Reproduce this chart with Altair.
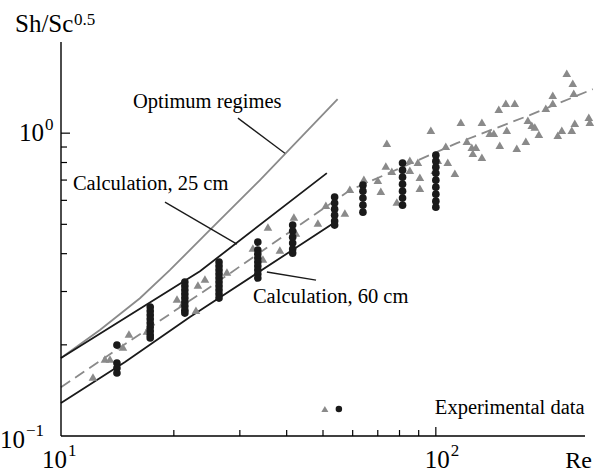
import altair as alt
import pandas as pd

# ---------------- data ----------------
# Experimental data, grey triangles (Re, Sh/Sc^0.5)
tri_re = [12.17, 13.10, 13.51, 14.63, 15.18, 16.96, 20.39, 21.15, 22.91, 23.19,
          24.21, 27.71, 32.51, 34.57, 35.65, 38.37, 41.81, 42.33, 48.45, 50.89,
          57.19, 58.97, 64.27, 70.02, 71.32, 74.00, 73.55, 76.31, 78.70, 85.24,
          89.54, 85.24, 90.65, 90.65, 96.98, 99.39, 101.2, 106.3, 107.6, 112.4,
          116.6, 121.0, 124.7, 127.9, 125.5, 132.7, 132.7, 139.3, 142.8, 147.2,
          153.7, 162.4, 148.1, 154.6, 164.4, 173.8, 176.0, 180.3, 183.7, 188.3,
          196.5, 205.1, 205.1, 211.5, 216.8, 230.5, 234.8, 233.3, 223.5, 231.9,
          255.9, 257.5]
tri_sh = [0.1565, 0.1795, 0.1795, 0.1966, 0.2171, 0.2221, 0.2832, 0.2748, 0.2604, 0.3150,
          0.3297, 0.3477, 0.4174, 0.3839, 0.4896, 0.4111, 0.5282, 0.4677, 0.5047, 0.5785,
          0.5445, 0.6533, 0.7050, 0.6996, 0.6435, 0.9268, 0.7784, 0.7490, 0.5920, 0.8144,
          0.8023, 0.7548, 0.7157, 0.6583, 1.023, 0.7548, 0.8144, 0.9060, 0.8023, 0.7379,
          1.087, 0.9410, 0.8991, 0.8991, 0.8590, 0.8333, 1.087, 1.000, 1.000, 1.200,
          1.256, 1.256, 0.9128, 1.023, 0.8922, 0.9410, 1.104, 1.063, 1.047, 0.9924,
          1.209, 1.335, 1.256, 0.985, 1.023, 1.023, 1.079, 1.355, 1.578, 1.462,
          1.129, 1.087]

# Experimental data, black circles: one column per Re value
dot_re = [14.1, 17.3, 21.4, 26.4, 33.5, 41.5, 53.7, 63.9, 81.5, 100.0]
dot_sh = [
    [0.1996, 0.1741, 0.1677, 0.1614],
    [0.2666, 0.2585, 0.2507, 0.2432, 0.2360, 0.2289, 0.2221, 0.2154, 0.2106],
    [0.3223, 0.3126, 0.3032, 0.2941, 0.2853, 0.2768, 0.2685, 0.2604, 0.2546],
    [0.3752, 0.3640, 0.3531, 0.3425, 0.3323, 0.3223, 0.3126, 0.3032, 0.2941, 0.2853],
    [0.4368, 0.4111, 0.3988, 0.3869, 0.3752, 0.3640, 0.3531, 0.3425, 0.3323],
    [0.4971, 0.4749, 0.4536, 0.4335, 0.4143, 0.4018],
    [0.6149, 0.5875, 0.5612, 0.5362, 0.5124, 0.4971],
    [0.6735, 0.6435, 0.6103, 0.5785, 0.5486],
    [0.7963, 0.7548, 0.7157, 0.6786, 0.6435, 0.6103, 0.5785],
    [0.8461, 0.8083, 0.7722, 0.7379, 0.6996, 0.6634, 0.6290, 0.5964, 0.5698],
]

# Curves
opt_re = [10, 12.70, 16.24, 19.51, 24.97, 33.94, 54.7]
opt_sh = [0.181, 0.224, 0.285, 0.353, 0.479, 0.700, 1.295]
calc25_re = [10, 23.48, 51.2]
calc25_sh = [0.181, 0.350, 0.738]
calc60_re = [10, 14.82, 22.08, 53.8]
calc60_sh = [0.1285, 0.1754, 0.247, 0.508]
fit_re = [10, 24.96, 58.97, 113.8, 178.1, 262.2]
fit_sh = [0.145, 0.310, 0.648, 0.927, 1.147, 1.397]

# Annotations and leader lines
label_text = ["Optimum regimes", "Calculation, 25 cm", "Calculation, 60 cm", "Experimental data"]
label_re = [15.56, 10.76, 32.51, 99.4]
label_sh = [1.209, 0.648, 0.2748, 0.1182]
leader_re = [29.65, 18.94, 35.42]
leader_sh = [1.121, 0.592, 0.348]
leader_re2 = [39.56, 29.47, 47.9]
leader_sh2 = [0.859, 0.430, 0.327]
legend_tri = (50.58, 0.1228)
legend_dot = (55.12, 0.1228)

# Axis ticks
x_minor = [20, 30, 40, 50, 60, 70, 80, 90]
x_major = [100]
y_minor = [0.2, 0.3, 0.4, 0.5, 0.6, 0.7, 0.8, 0.9]
y_major = [1.0]

# ---------------- chart ----------------
FONT = "Liberation Serif"
GREY = "#8a8a8a"
BLACK = "#1a1a1a"
X = alt.Scale(type="log", domain=[10, 250], nice=False)
Y = alt.Scale(type="log", domain=[0.1, 2.0], nice=False)
W, H = 524, 394


def xe(field="re:Q"):
    return alt.X(field, scale=X, axis=None)


def ye(field="sh:Q"):
    return alt.Y(field, scale=Y, axis=None)


def line_df(re, sh):
    return pd.DataFrame({"re": re, "sh": sh})


tri_df = pd.DataFrame({"re": tri_re, "sh": tri_sh})
dot_rows = [(r, s) for r, col in zip(dot_re, dot_sh) for s in col]
dot_df = pd.DataFrame(dot_rows, columns=["re", "sh"])


def curve(re, sh, color, dash=None):
    kw = dict(color=color, strokeWidth=1.8)
    if dash:
        kw["strokeDash"] = dash
    return alt.Chart(line_df(re, sh)).mark_line(**kw).encode(x=xe(), y=ye())


opt = curve(opt_re, opt_sh, GREY)
calc25 = curve(calc25_re, calc25_sh, BLACK)
calc60 = curve(calc60_re, calc60_sh, BLACK)
fit = curve(fit_re, fit_sh, GREY, dash=[11, 6])

leaders = alt.Chart(pd.DataFrame({"re": leader_re, "sh": leader_sh,
                                  "re2": leader_re2, "sh2": leader_sh2})).mark_rule(
    color=BLACK, strokeWidth=1.3).encode(x=xe(), y=ye(), x2="re2:Q", y2="sh2:Q")

tris = alt.Chart(tri_df).mark_point(shape="triangle-up", filled=True, color=GREY,
                                    size=75, opacity=1, strokeWidth=0).encode(x=xe(), y=ye())

dots = alt.Chart(dot_df).mark_circle(color=BLACK, size=58, opacity=1).encode(x=xe(), y=ye())

leg_tri = alt.Chart(pd.DataFrame({"re": [legend_tri[0]], "sh": [legend_tri[1]]})).mark_point(
    shape="triangle-up", filled=True, color=GREY, size=50, opacity=1, strokeWidth=0).encode(
    x=xe(), y=ye())
leg_dot = alt.Chart(pd.DataFrame({"re": [legend_dot[0]], "sh": [legend_dot[1]]})).mark_circle(
    color=BLACK, size=42, opacity=1).encode(x=xe(), y=ye())

labels = alt.Chart(pd.DataFrame({"t": label_text, "re": label_re, "sh": label_sh})).mark_text(
    font=FONT, fontSize=20.5, align="left", baseline="alphabetic", color="black").encode(
    x=xe(), y=ye(), text="t:N")

# axis lines
x_axis_line = alt.Chart(pd.DataFrame({"v": [0]})).mark_rule(color="black", strokeWidth=1.4).encode(
    x=alt.value(0), x2=alt.value(W), y=alt.value(H))
y_axis_line = alt.Chart(pd.DataFrame({"v": [0]})).mark_rule(color="black", strokeWidth=1.4).encode(
    x=alt.value(0), y=alt.value(0), y2=alt.value(H))

# inward ticks
xt_minor = alt.Chart(pd.DataFrame({"v": x_minor})).mark_rule(color="black", strokeWidth=1.2).encode(
    x=xe("v:Q"), y=alt.value(H), y2=alt.value(H - 6))
xt_major = alt.Chart(pd.DataFrame({"v": x_major})).mark_rule(color="black", strokeWidth=1.2).encode(
    x=xe("v:Q"), y=alt.value(H), y2=alt.value(H - 9))
yt_minor = alt.Chart(pd.DataFrame({"v": y_minor})).mark_rule(color="black", strokeWidth=1.2).encode(
    y=ye("v:Q"), x=alt.value(0), x2=alt.value(6))
yt_major = alt.Chart(pd.DataFrame({"v": y_major})).mark_rule(color="black", strokeWidth=1.2).encode(
    y=ye("v:Q"), x=alt.value(0), x2=alt.value(9))

# tick labels with superscripts
LAB = 25
SUP = 17


def txt(text, x, y, size, align, dx=0, dy=0):
    return alt.Chart(pd.DataFrame({"t": [text]})).mark_text(
        font=FONT, fontSize=size, align=align, baseline="alphabetic", color="black",
        dx=dx, dy=dy).encode(x=x, y=y, text="t:N")


ylab = [
    txt("10", alt.value(-17), alt.datum(1.0), LAB, "right", dy=8),
    txt("0", alt.value(-16), alt.datum(1.0), SUP, "left", dy=-3),
    txt("10", alt.value(-36), alt.datum(0.1), LAB, "right", dy=12),
    txt("\u22121", alt.value(-35), alt.datum(0.1), SUP, "left", dy=0),
]
xlab = [
    txt("10", alt.datum(10), alt.value(H + 32), LAB, "right", dx=6),
    txt("1", alt.datum(10), alt.value(H + 20), SUP, "left", dx=7),
    txt("10", alt.datum(100), alt.value(H + 32), LAB, "right", dx=14),
    txt("2", alt.datum(100), alt.value(H + 20), SUP, "left", dx=15),
]
titles = [
    txt("Sh/Sc", alt.value(-46), alt.value(-10), LAB, "left"),
    txt("0.5", alt.value(13), alt.value(-17), SUP, "left"),
    txt("Re", alt.value(531), alt.value(H + 32), 24, "right"),
]

chart = alt.layer(
    opt, calc25, calc60, fit, leaders, tris, dots, leg_tri, leg_dot, labels,
    x_axis_line, y_axis_line, xt_minor, xt_major, yt_minor, yt_major,
    *ylab, *xlab, *titles
).properties(
    width=W, height=H,
    padding={"left": 61, "top": 42, "right": 10, "bottom": 37},
    autosize=alt.AutoSizeParams(type="none"),
    background="white",
).configure_view(stroke=None)

chart.save("out.html", embed_options={"renderer": "svg", "actions": False})
